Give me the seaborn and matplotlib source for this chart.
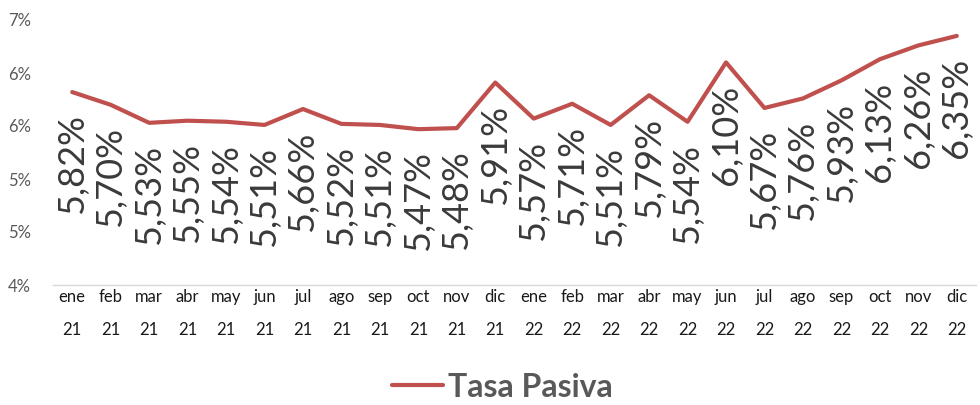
import numpy as np
import pandas as pd
import matplotlib
matplotlib.use('Agg')
import matplotlib.pyplot as plt
import seaborn as sns

# data
meses = ['ene\n21', 'feb\n21', 'mar\n21', 'abr\n21', 'may\n21', 'jun\n21', 'jul\n21', 'ago\n21',
         'sep\n21', 'oct\n21', 'nov\n21', 'dic\n21', 'ene\n22', 'feb\n22', 'mar\n22', 'abr\n22',
         'may\n22', 'jun\n22', 'jul\n22', 'ago\n22', 'sep\n22', 'oct\n22', 'nov\n22', 'dic\n22']
tasa_pasiva = [5.82, 5.70, 5.53, 5.55, 5.54, 5.51, 5.66, 5.52, 5.51, 5.47, 5.48, 5.91,
               5.57, 5.71, 5.51, 5.79, 5.54, 6.10, 5.67, 5.76, 5.93, 6.13, 6.26, 6.35]
y_ticks = [4.0, 4.5, 5.0, 5.5, 6.0, 6.5]
y_labels = ['4%', '5%', '5%', '6%', '6%', '7%']

sns.set_theme(style='white')
plt.rcParams['font.family'] = ['Lato', 'DejaVu Sans']

df = pd.DataFrame({'pos': np.arange(len(meses)), 'tasa': tasa_pasiva})

fig = plt.figure(figsize=(9.8, 4.05), dpi=100)
ax = fig.add_axes([53/980, 1-285/405, (976-53)/980, (285-20)/405])

sns.lineplot(data=df, x='pos', y='tasa', ax=ax, color='#C0504D', linewidth=3,
             label='Tasa Pasiva')

# data labels, rotated, under each point
for x, v in zip(df['pos'], df['tasa']):
    ax.annotate(f'{v:.2f}%'.replace('.', ','), (x, v), xytext=(0, -16),
                textcoords='offset points', rotation=90, ha='center', va='top',
                fontsize=26, color='#3a3a3a')

ax.set_xlim(-0.5, len(meses) - 0.5)
ax.set_ylim(4.0, 6.5)
ax.set_xticks(df['pos'])
ax.set_xticklabels(meses, fontsize=12, color='#1a1a1a', linespacing=2.3)
ax.set_yticks(y_ticks)
ax.set_yticklabels(y_labels, fontsize=12, color='#595959')
ax.set_xlabel('')
ax.set_ylabel('')
ax.tick_params(axis='both', length=0)
ax.tick_params(axis='x', pad=3)
ax.tick_params(axis='y', pad=16)
for s in ['top', 'right', 'left']:
    ax.spines[s].set_visible(False)
ax.spines['bottom'].set_color('#d9d9d9')
ax.spines['bottom'].set_linewidth(1)

leg = ax.legend(loc='center', bbox_to_anchor=(0.487, -0.385), frameon=False,
                handlelength=1.6, handletextpad=0.15,
                prop={'size': 23, 'weight': 'bold'})
for t in leg.get_texts():
    t.set_color('#595959')

fig.savefig('out.png', dpi=100)
